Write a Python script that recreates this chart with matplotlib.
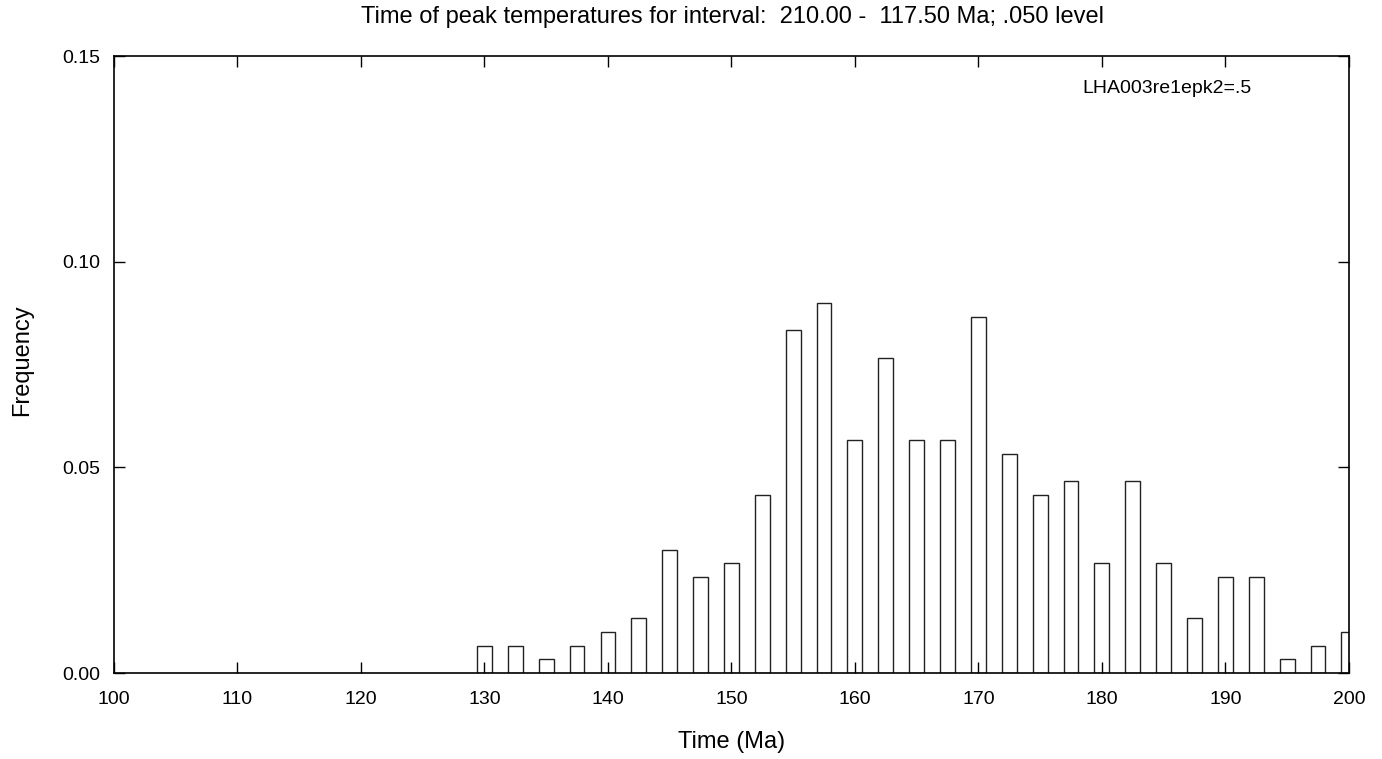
import matplotlib
matplotlib.use("Agg")
import matplotlib.pyplot as plt

plt.rcParams['font.family'] = ['Liberation Sans', 'DejaVu Sans']

# Bin centres (Ma) and relative frequencies of peak-temperature times
times = [130, 132.5, 135, 137.5, 140, 142.5, 145, 147.5, 150, 152.5,
         155, 157.5, 160, 162.5, 165, 167.5, 170, 172.5, 175, 177.5,
         180, 182.5, 185, 187.5, 190, 192.5, 195, 197.5, 200]
counts = [2, 2, 1, 2, 3, 4, 9, 7, 8, 13,
          25, 27, 17, 23, 17, 17, 26, 16, 13, 14,
          8, 14, 8, 4, 7, 7, 1, 2, 3]
n_total = 300
freq = [c / n_total for c in counts]

x_ticks = [100, 110, 120, 130, 140, 150, 160, 170, 180, 190, 200]
y_ticks = [0.00, 0.05, 0.10, 0.15]
y_tick_labels = ["0.00", "0.05", "0.10", "0.15"]

fig = plt.figure(figsize=(13.82, 7.59), dpi=100)
ax = fig.add_axes([0.0825, 0.1133, 0.8935, 0.8127])

ax.bar(times, freq, width=1.2, facecolor="white", edgecolor="#222222",
       linewidth=1.0, align="center")

ax.set_xlim(100, 200)
ax.set_ylim(0, 0.15)
ax.set_xticks(x_ticks)
ax.set_xticklabels([str(t) for t in x_ticks])
ax.set_yticks(y_ticks)
ax.set_yticklabels(y_tick_labels)
ax.tick_params(direction="in", length=8, width=1, top=True, right=True,
               labelsize=14)
ax.tick_params(axis="x", pad=13)
ax.tick_params(axis="y", pad=10)
for s in ax.spines.values():
    s.set_linewidth(1.2)

fig.text(0.53, 1 - 17 / 759,
         "Time of peak temperatures for interval:  210.00 -  117.50 Ma; .050 level",
         ha="center", va="center", fontsize=17)
fig.text(0.5297, 1 - 742 / 759, "Time (Ma)", ha="center", va="center", fontsize=17)
fig.text(22 / 1382, 1 - 360 / 759, "Frequency", ha="center", va="center",
         rotation=90, fontsize=17)
ax.text(0.853, 0.948, "LHA003re1epk2=.5", transform=ax.transAxes,
        ha="center", va="center", fontsize=14)

fig.savefig("out.png", dpi=100)
